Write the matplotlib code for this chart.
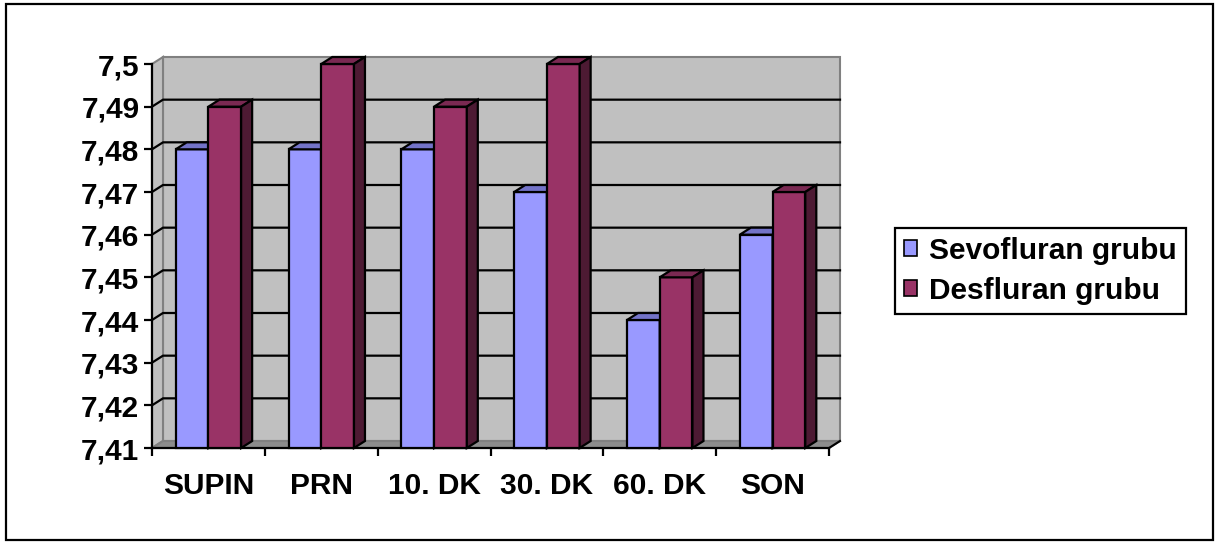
import numpy as np
import matplotlib
matplotlib.use("Agg")
import matplotlib.pyplot as plt
from matplotlib.patches import Polygon, Rectangle, Patch

categories = ["SUPIN", "PRN", "10. DK", "30. DK", "60. DK", "SON"]
sevo = [7.48, 7.48, 7.48, 7.47, 7.44, 7.46]
desf = [7.49, 7.50, 7.49, 7.50, 7.45, 7.47]
series_names = ["Sevofluran grubu", "Desfluran grubu"]
y_ticks = [7.41, 7.42, 7.43, 7.44, 7.45, 7.46, 7.47, 7.48, 7.49, 7.50]

# front, top, side shades per series
face_colors = ["#9999FF", "#993366"]
top_colors = ["#7373C8", "#7A2952"]
side_colors = ["#5C5CA8", "#4D1A33"]

plt.rcParams["font.family"] = ["Liberation Sans", "DejaVu Sans"]
plt.rcParams["font.weight"] = "bold"
FS = 21.5

W, H = 1219, 544
fig = plt.figure(figsize=(W / 100, H / 100), dpi=100)
ax_w, ax_h = 677, 384
ax = fig.add_axes([152 / W, 96 / H, ax_w / W, ax_h / H])
ymin, ymax = y_ticks[0], y_ticks[-1]
x0, x1 = -0.5, len(categories) - 0.5
ax.set_xlim(x0, x1)
ax.set_ylim(ymin, ymax)
ax.patch.set_visible(False)

# depth of the 3d box in data units (about 11 px right, 7 px up)
dx = 11 / (ax_w / len(categories))
dy = 7 / (ax_h / (ymax - ymin))

wall_kw = dict(clip_on=False, linewidth=1.5)
ax.add_patch(Rectangle((x0 + dx, ymin + dy), x1 - x0, ymax - ymin,
                       facecolor="#C0C0C0", edgecolor="#808080", zorder=0, **wall_kw))
ax.add_patch(Polygon([(x0, ymin), (x0 + dx, ymin + dy), (x0 + dx, ymax + dy), (x0, ymax)],
                     facecolor="#C0C0C0", edgecolor="#808080", zorder=0, **wall_kw))
ax.add_patch(Polygon([(x0, ymin), (x1, ymin), (x1 + dx, ymin + dy), (x0 + dx, ymin + dy)],
                     facecolor="#8C8C8C", edgecolor="#808080", zorder=0.5, **wall_kw))

# gridlines run across the side wall and the back wall
for t in y_ticks[1:-1]:
    ax.plot([x0, x0 + dx, x1 + dx], [t, t + dy, t + dy], color="black",
            linewidth=1.6, clip_on=False, zorder=1)
ax.plot([x1, x1 + dx], [ymin, ymin + dy], color="black", linewidth=1.5,
        clip_on=False, zorder=1)

bw = 0.29
z = 3
for i in range(len(categories)):
    for j, vals in enumerate([sevo, desf]):
        left = i - bw + j * bw
        v = vals[i]
        ax.bar(left, v - ymin, width=bw, bottom=ymin, align="edge",
               facecolor=face_colors[j], edgecolor="black", linewidth=1.6,
               zorder=z, clip_on=False)
        ax.add_patch(Polygon([(left, v), (left + bw, v), (left + bw + dx, v + dy), (left + dx, v + dy)],
                             facecolor=top_colors[j], edgecolor="black", linewidth=1.6,
                             zorder=z, clip_on=False))
        ax.add_patch(Polygon([(left + bw, ymin), (left + bw + dx, ymin + dy),
                              (left + bw + dx, v + dy), (left + bw, v)],
                             facecolor=side_colors[j], edgecolor="black", linewidth=1.6,
                             zorder=z, clip_on=False))
        z += 1

for side in ["top", "right"]:
    ax.spines[side].set_visible(False)
for side in ["left", "bottom"]:
    ax.spines[side].set_linewidth(1.6)
    ax.spines[side].set_zorder(2)

ax.set_yticks(y_ticks)
ax.set_yticklabels([f"{t:g}".replace(".", ",") for t in y_ticks])
ax.set_xticks(np.arange(x0, x1 + 0.01, 1.0))
ax.set_xticklabels([])
ax.set_xticks(range(len(categories)), minor=True)
ax.set_xticklabels(categories, minor=True)
ax.tick_params(axis="y", length=6, width=1.6, labelsize=FS, pad=3)
ax.tick_params(axis="x", which="major", length=6, width=1.6)
ax.tick_params(axis="x", which="minor", length=0, labelsize=FS, pad=17)

handles = [Patch(facecolor=c, edgecolor="black", linewidth=1.2) for c in face_colors]
leg = fig.legend(handles, series_names, loc="upper left", bbox_to_anchor=(895 / W, 1 - 228 / H),
                 bbox_transform=fig.transFigure, borderaxespad=0, fontsize=FS,
                 handlelength=0.45, handleheight=0.45, handletextpad=0.4,
                 labelspacing=0.4, borderpad=0.3, fancybox=False, framealpha=1)
leg.get_frame().set_edgecolor("black")
leg.get_frame().set_linewidth(1.6)

fig.patches.append(Rectangle((6 / W, 4 / H), 1207 / W, 536 / H, transform=fig.transFigure,
                             fill=False, edgecolor="black", linewidth=1.6))

fig.savefig("out.png", dpi=100)
